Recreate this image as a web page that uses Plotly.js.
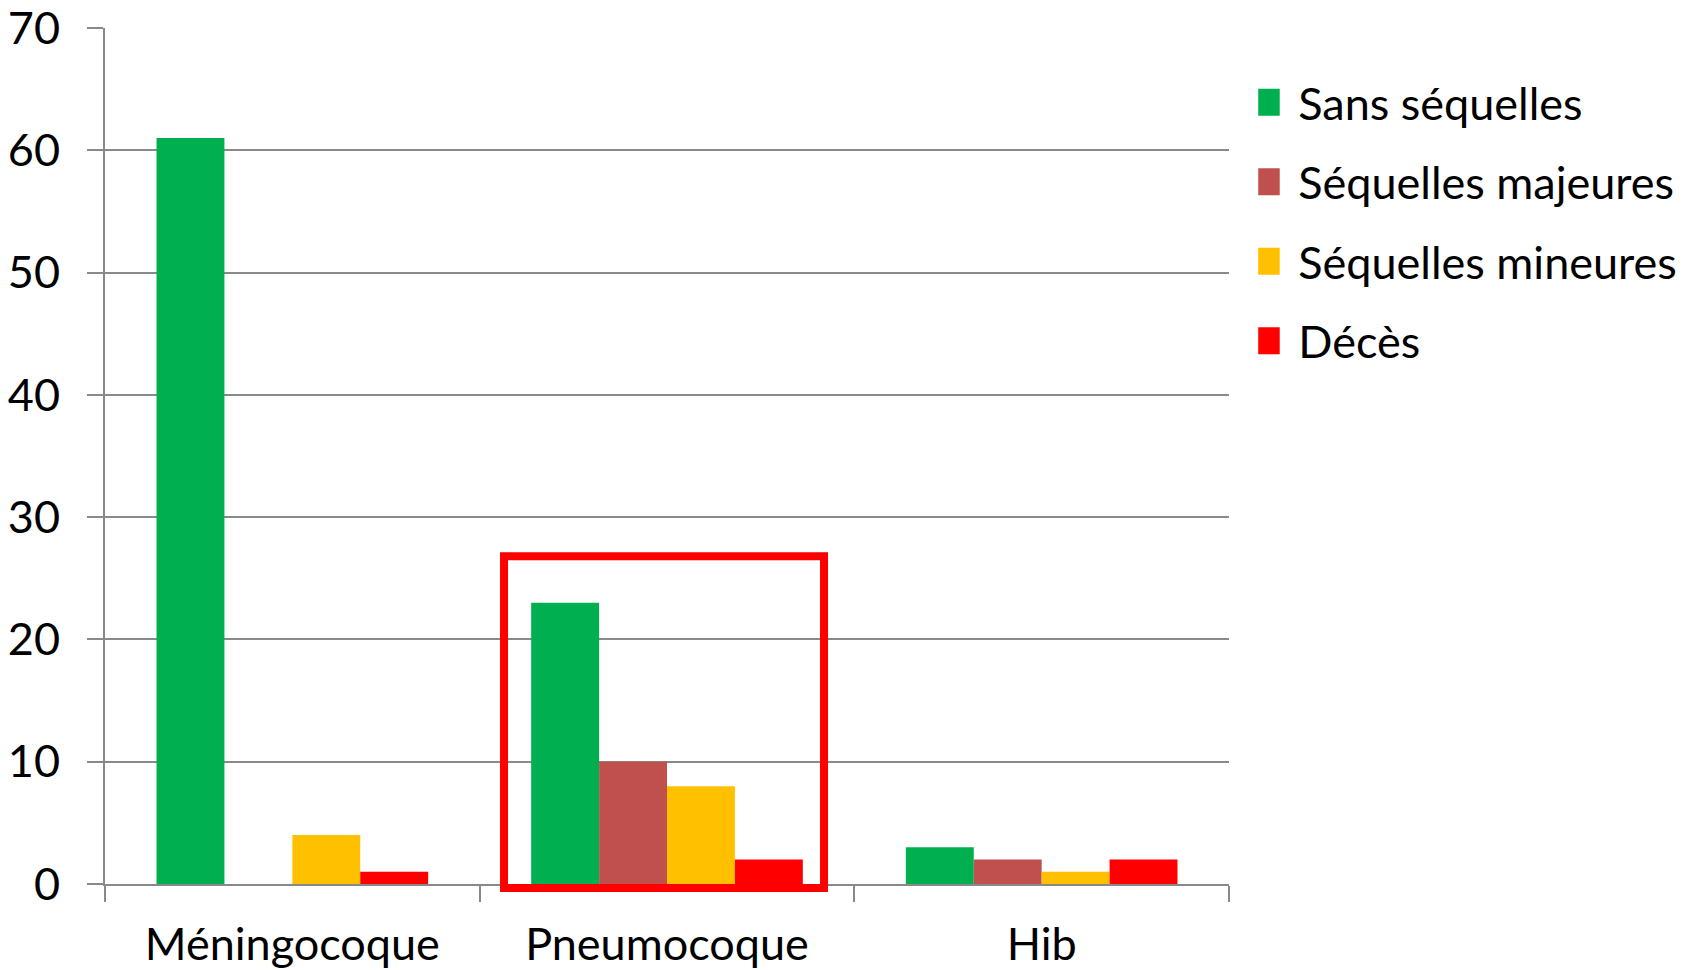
<!DOCTYPE html>
<html>
<head>
<meta charset="utf-8">
<script src="https://cdn.plot.ly/plotly-3.0.1.min.js"></script>
<style>html,body{margin:0;padding:0;background:#fff;}#chart{width:1694px;height:970px;}</style>
</head>
<body>
<div id="chart"></div>
<script>
const categories = ["Méningocoque", "Pneumocoque", "Hib"];
const seriesNames = ["Sans séquelles", "Séquelles majeures", "Séquelles mineures", "Décès"];
const valuesSans = [61, 23, 3];
const valuesMajeures = [0, 10, 2];
const valuesMineures = [4, 8, 1];
const valuesDeces = [1, 2, 2];
const yTicks = [0, 10, 20, 30, 40, 50, 60, 70];

const colors = ["#00B050", "#C0504D", "#FFC000", "#FF0000"];
const allValues = [valuesSans, valuesMajeures, valuesMineures, valuesDeces];
const FONT = "Lato, 'Open Sans', sans-serif";
const FS = 45;

const traces = allValues.map((vals, i) => ({
  type: "bar",
  name: seriesNames[i],
  x: categories,
  y: vals,
  marker: { color: colors[i], line: { width: 0 } },
  legendgroup: "g" + i,
  hoverinfo: "x+y+name"
}));

const layout = {
  width: 1694,
  height: 970,
  paper_bgcolor: "#ffffff",
  plot_bgcolor: "#ffffff",
  margin: { l: 105, r: 465, t: 28, b: 86 },
  font: { family: FONT, size: FS, color: "#000000" },
  barmode: "group",
  bargap: 0.275,
  bargroupgap: 0,
  showlegend: true,
  legend: {
    x: 1.026, xanchor: "left",
    y: 0.955, yanchor: "top",
    traceorder: "grouped",
    tracegroupgap: 18,
    font: { family: FONT, size: FS, color: "#000000" },
    itemclick: false
  },
  xaxis: {
    type: "category",
    showline: true, linecolor: "#898989", linewidth: 2,
    ticks: "outside", tickson: "boundaries", ticklen: 16, tickwidth: 2, tickcolor: "#898989",
    ticklabelstandoff: 20,
    ticklabeloverflow: "allow",
    tickfont: { family: FONT, size: FS, color: "#000000" },
    showgrid: false, zeroline: false
  },
  yaxis: {
    range: [0, 70],
    tickvals: yTicks,
    ticktext: yTicks.map(String),
    showline: true, linecolor: "#898989", linewidth: 2,
    ticks: "outside", ticklen: 16, tickwidth: 2, tickcolor: "#898989",
    ticklabelstandoff: 18,
    ticklabeloverflow: "allow",
    showgrid: true, gridcolor: "#898989", gridwidth: 2,
    zeroline: false,
    tickfont: { family: FONT, size: FS, color: "#000000" }
  },
  shapes: [{
    type: "rect", xref: "paper", yref: "paper",
    x0: 0.355, x1: 0.6397, y0: -0.0047, y1: 0.383,
    line: { color: "#FF0000", width: 8 },
    fillcolor: "rgba(0,0,0,0)",
    layer: "above"
  }]
};

Plotly.newPlot("chart", traces, layout, { displayModeBar: false, staticPlot: true }).then(() => {
  document.querySelectorAll(".legend .legendpoints path").forEach(p => {
    p.setAttribute("d", "M13.5,13.5H-13.5V-13.5H13.5Z");
    p.setAttribute("transform", "translate(8,0)");
  });
});
</script>
</body>
</html>
